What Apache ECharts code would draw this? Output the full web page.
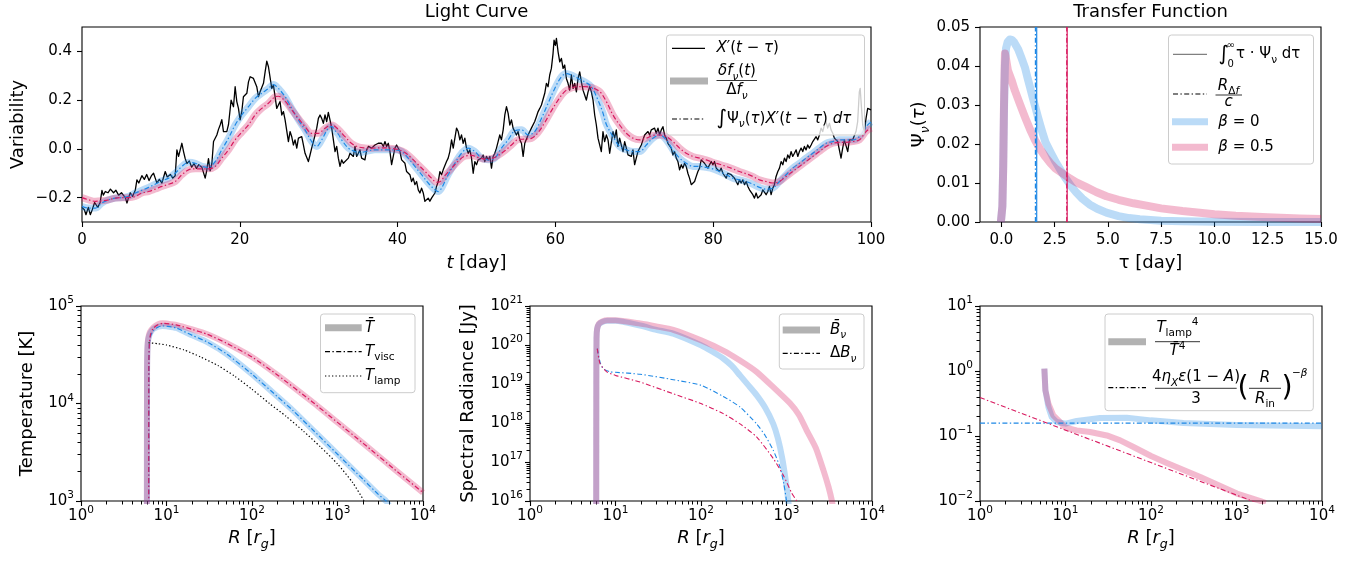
<!DOCTYPE html>
<html>
<head>
<meta charset="utf-8">
<script src="https://cdn.jsdelivr.net/npm/echarts@6/dist/echarts.min.js"></script>
<style>
html, body { margin: 0; padding: 0; background: #fff; }
#chart { width: 1360px; height: 563px; }
</style>
</head>
<body>
<div id="chart"></div>
<script>
// ---------- data ----------
// Driving light curve X'(t - tau): [t (day), variability]
const drivingSignal = [
[0,-0.24],[0.3,-0.25],[0.5,-0.27],[0.8,-0.24],[1.05,-0.27],[1.3,-0.25],[1.6,-0.22],[2.0,-0.24],[2.3,-0.22],[2.53,-0.17],[2.7,-0.19],[2.95,-0.175],[3.3,-0.18],[3.6,-0.165],[4.0,-0.18],[4.3,-0.17],[4.64,-0.19],[5.0,-0.18],[5.49,-0.2],[5.7,-0.222],[5.9,-0.2],[6.12,-0.18],[6.4,-0.195],[6.75,-0.17],[6.96,-0.127],[7.2,-0.14],[7.59,-0.11],[7.9,-0.125],[8.2,-0.105],[8.5,-0.13],[8.8,-0.11],[9.07,-0.1],[9.28,-0.12],[9.49,-0.14],[9.8,-0.125],[10.13,-0.14],[10.55,-0.093],[10.8,-0.115],[11.2,-0.105],[11.5,-0.12],[11.81,-0.11],[12.03,-0.004],[12.24,-0.031],[12.66,0.023],[12.87,-0.011],[13.08,-0.04],[13.3,-0.06],[13.6,-0.05],[13.9,-0.075],[14.2,-0.06],[14.5,-0.08],[14.8,-0.065],[15.19,-0.075],[15.61,-0.12],[15.8,-0.09],[16.03,-0.04],[16.24,-0.09],[16.46,-0.06],[16.67,0.03],[17.09,0.057],[17.3,0.08],[17.51,0.098],[17.72,0.12],[17.93,0.071],[18.35,0.071],[18.57,0.1],[18.9,0.2],[19.2,0.173],[19.41,0.255],[19.62,0.194],[19.83,0.166],[20.04,0.119],[20.25,0.153],[20.46,0.214],[20.89,0.228],[21.1,0.275],[21.31,0.296],[21.73,0.289],[21.94,0.282],[22.15,0.255],[22.36,0.214],[22.57,0.234],[22.78,0.234],[23.0,0.269],[23.21,0.316],[23.42,0.36],[23.63,0.337],[23.84,0.33],[24.05,0.248],[24.26,0.262],[24.47,0.214],[24.68,0.166],[24.89,0.16],[25.1,0.194],[25.32,0.139],[25.53,0.153],[25.74,0.119],[26.16,0.03],[26.37,0.071],[26.58,0.05],[26.79,0.016],[27.0,0.037],[27.22,0.003],[27.43,0.044],[27.85,0.05],[28.06,0.016],[28.27,-0.018],[28.48,-0.025],[28.69,-0.052],[28.9,-0.025],[29.11,0.003],[29.32,0.01],[29.54,0.057],[29.75,0.085],[29.96,0.125],[30.17,0.139],[30.38,0.125],[30.59,0.105],[30.8,0.139],[31.01,0.112],[31.22,0.15],[31.43,0.119],[31.65,0.085],[31.86,0.037],[32.07,-0.011],[32.28,0.01],[32.49,-0.038],[32.7,-0.072],[32.91,-0.045],[33.12,-0.059],[33.33,-0.052],
[33.76,-0.038],[33.97,-0.018],[34.18,-0.011],[34.39,-0.031],[34.6,0.01],[34.81,-0.031],[35.02,-0.018],[35.23,-0.004],[35.44,-0.038],[35.86,-0.045],[36.08,-0.004],[36.29,0.01],[36.71,0.003],[37.13,0.016],[37.55,0.023],[37.97,0.023],[38.19,0.01],[38.4,0.03],[38.61,0.01],[38.82,0.023],[39.03,-0.011],[39.24,-0.065],[39.45,-0.031],[39.66,0.003],[39.87,0.016],[40.08,0.01],[40.3,-0.011],[40.51,-0.045],[40.93,-0.059],[41.14,-0.093],[41.35,-0.086],[41.56,-0.106],[41.77,-0.134],[41.98,-0.12],[42.19,-0.147],[42.41,-0.134],[42.62,-0.168],[42.83,-0.181],[43.04,-0.161],[43.25,-0.181],[43.46,-0.215],[43.67,-0.209],[43.88,-0.202],[44.09,-0.215],[44.3,-0.202],[44.51,-0.209],[44.73,-0.181],[44.94,-0.154],[45.15,-0.134],[45.36,-0.093],[45.57,-0.106],[45.78,-0.086],[45.99,-0.093],[46.2,-0.052],[46.41,-0.038],[46.62,-0.011],[46.84,0.037],[47.05,0.003],[47.26,0.044],[47.47,0.085],[47.68,0.071],[47.89,0.037],[48.1,0.057],[48.31,0.023],[48.52,0.044],[48.73,0.003],[48.95,-0.018],[49.16,-0.004],[49.37,-0.038],[49.58,-0.1],[49.79,-0.052],[50.0,-0.065],[50.21,-0.045],[50.63,-0.038],[50.84,-0.025],[51.05,-0.052],[51.27,-0.031],[51.48,-0.045],[51.69,-0.031],[51.9,-0.079],[52.11,-0.031],[52.32,-0.018],[52.53,0.003],[52.74,0.03],[52.95,0.057],[53.16,0.037],[53.38,0.078],[53.59,0.139],[53.8,0.173],[54.01,0.146],[54.22,0.098],[54.43,0.119],[54.64,0.085],[54.85,0.091],[55.06,0.057],[55.27,0.071],[55.49,0.037],[55.7,0.023],[55.91,-0.031],[56.12,0.023],[56.33,0.03],[56.54,0.057],[56.96,0.085],[57.17,0.078],[57.38,0.112],[57.59,0.132],[57.81,0.153],[58.02,0.166],[58.23,0.18],[58.44,0.187],[58.65,0.228],[58.86,0.269],[59.07,0.255],[59.28,0.303],[59.49,0.33],[59.7,0.391],[59.83,0.446],[60.0,0.425],[60.13,0.453],[60.34,0.398],[60.55,0.357],[60.76,0.371],[60.97,0.33],[61.18,0.344],[61.39,0.289],[61.6,0.269],[61.81,0.241],[62.03,0.303],[62.24,0.248],[62.45,0.269],[62.66,0.234],[62.87,0.289],[63.08,0.316],[63.29,0.275],[63.5,0.241],[63.71,0.221],[63.92,0.2],[64.14,0.234],[64.35,0.255],[64.56,0.234],[64.77,0.2],[64.98,0.139],[65.19,0.098],[65.4,0.044],
[65.82,-0.011],[66.03,0.071],[66.24,0.03],[66.46,0.057],[66.67,0.037],[66.88,-0.018],[67.09,-0.025],[67.3,0.071],[67.51,0.044],[67.72,0.078],[67.93,0.01],[68.14,0.044],[68.35,0.016],[68.57,-0.011],[68.78,0.03],[68.99,0.003],[69.2,-0.025],[69.41,-0.018],[69.62,-0.031],[69.83,-0.004],[70.04,-0.065],[70.25,-0.038],[70.46,-0.011],[70.68,-0.004],[70.89,0.016],[71.1,0.037],[71.31,0.057],[71.52,0.064],[71.73,0.071],[71.94,0.057],[72.15,0.078],[72.36,0.071],[72.57,0.085],[72.78,0.064],[73.0,0.085],[73.21,0.057],[73.42,0.078],[73.63,0.091],[73.84,0.057],[74.05,0.044],[74.26,0.023],[74.47,0.016],[74.68,0.003],[74.89,-0.025],[75.11,-0.011],[75.32,-0.038],[75.53,-0.052],[75.74,-0.086],[75.95,-0.065],[76.16,-0.079],[76.37,-0.059],[76.58,-0.072],[76.79,-0.1],[77.0,-0.12],[77.22,-0.147],[77.43,-0.154],[77.64,-0.134],[77.85,-0.113],[78.06,-0.093],[78.27,-0.079],[78.48,-0.045],[78.69,-0.038],[78.9,-0.059],[79.11,-0.052],[79.32,-0.079],[79.54,-0.065],[79.75,-0.052],[79.96,-0.065],[80.17,-0.052],[80.38,-0.079],[80.59,-0.072],[80.8,-0.093],[81.01,-0.079],[81.22,-0.1],[81.43,-0.106],[81.65,-0.12],[81.86,-0.1],[82.07,-0.093],[82.28,-0.106],[82.49,-0.113],[82.7,-0.12],[82.91,-0.134],[83.12,-0.147],[83.33,-0.127],[83.54,-0.14],[83.76,-0.127],[83.97,-0.147],[84.18,-0.134],[84.39,-0.154],[84.6,-0.168],[84.81,-0.175],[85.02,-0.188],[85.23,-0.202],[85.44,-0.181],[85.65,-0.202],[85.86,-0.195],[86.08,-0.188],[86.29,-0.168],[86.5,-0.175],[86.71,-0.188],[86.92,-0.175],[87.13,-0.154],[87.34,-0.188],[87.55,-0.161],[87.76,-0.147],[87.97,-0.113],[88.19,-0.093],[88.4,-0.079],[88.61,-0.052],[88.82,-0.065],[89.03,-0.038],[89.24,-0.052],[89.45,-0.025],[89.66,-0.038],[89.87,-0.011],[90.08,-0.031],[90.3,-0.018],[90.51,-0.004],[90.72,-0.031],[90.93,-0.011],[91.14,0.003],[91.35,-0.011],[91.56,0.01],[91.77,-0.004],[91.98,0.016],[92.19,0.003],[92.41,0.016],[92.62,0.03],[92.83,0.023],[93.04,0.05],[93.25,0.037],[93.46,0.057],[93.67,0.085],[93.88,0.071],[94.09,0.098],[94.3,0.112],[94.51,0.085],[94.73,0.105],[94.94,0.078],[95.15,0.064],[95.36,0.044],[95.57,0.037],[95.78,0.03],[95.99,0.037],[96.2,-0.038],[96.41,0.003],[96.62,0.037],[96.84,0.044],[97.05,-0.011],[97.26,0.037],[97.47,0.03],[97.68,0.037],[97.89,0.044],[98.1,0.071],[98.31,0.112],[98.52,0.234],[98.63,0.248],[98.8,0.166],[98.95,0.098],[99.16,0.071],[99.37,0.125],[99.58,0.166],[99.79,0.173],[100,0.16]
];

// Reprocessed response (delta f / Delta f and its convolution), beta = 0
const responseBeta0 = [
[0,-0.236],[0.84,-0.243],[1.69,-0.243],[2.53,-0.222],[3.38,-0.209],[4.22,-0.202],[5.06,-0.2],[5.91,-0.195],[6.75,-0.181],[7.59,-0.17],[8.44,-0.158],[9.28,-0.145],[10.13,-0.131],[10.97,-0.12],[11.81,-0.1],[12.66,-0.072],[13.5,-0.055],[14.35,-0.059],[15.19,-0.072],[16.03,-0.076],[16.88,-0.052],[17.72,-0.004],[18.57,0.044],[19.41,0.098],[20.25,0.139],[21.1,0.173],[21.94,0.207],[22.78,0.228],[23.63,0.248],[24.26,0.264],[24.89,0.248],[25.74,0.214],[26.58,0.166],[27.43,0.119],[28.27,0.078],[29.11,0.03],[29.75,0.01],[30.38,0.037],[31.22,0.085],[31.65,0.091],[32.07,0.075],[32.49,0.06],[32.91,0.037],[33.76,0.003],[34.6,-0.011],[35.44,-0.014],[36.29,-0.008],[37.13,-0.004],[37.97,-0.004],[38.82,-0.004],[39.66,-0.004],[40.51,-0.011],[41.35,-0.038],[42.19,-0.072],[43.04,-0.106],[43.88,-0.14],[44.73,-0.168],[45.15,-0.175],[45.57,-0.161],[46.41,-0.106],[47.26,-0.059],[48.1,-0.018],[48.95,0.003],[49.79,-0.011],[50.63,-0.038],[51.48,-0.045],[52.32,-0.038],[53.16,0.003],[54.01,0.037],[54.85,0.074],[55.7,0.078],[56.54,0.057],[57.38,0.071],[58.23,0.125],[59.07,0.187],[59.92,0.248],[60.76,0.296],[61.39,0.309],[62.03,0.303],[62.87,0.289],[63.71,0.275],[64.56,0.255],[65.4,0.2],[66.0,0.15],[66.46,0.1],[67.3,0.05],[68.14,0.01],[68.99,-0.004],[69.83,-0.011],[70.68,-0.011],[71.52,0.016],[72.36,0.044],[73.21,0.057],[74.05,0.037],[74.89,-0.004],[75.74,-0.038],[76.58,-0.059],[77.43,-0.072],[78.27,-0.072],[79.11,-0.076],[79.96,-0.082],[80.8,-0.093],[81.65,-0.106],[82.49,-0.12],[83.33,-0.127],[84.18,-0.134],[85.02,-0.145],[85.86,-0.158],[86.71,-0.165],[87.55,-0.161],[88.4,-0.134],[89.24,-0.106],[90.08,-0.079],[90.93,-0.059],[91.77,-0.038],[92.62,-0.018],[93.46,0.003],[94.3,0.023],[95.15,0.03],[95.99,0.037],[96.84,0.037],[97.68,0.037],[98.52,0.05],[99.37,0.091],[100,0.11]
];

// Reprocessed response, beta = 0.5
const responseBeta05 = [
[0,-0.2],[0.84,-0.209],[1.69,-0.215],[2.53,-0.213],[3.38,-0.209],[4.22,-0.202],[5.06,-0.2],[5.91,-0.2],[6.75,-0.195],[7.59,-0.181],[8.44,-0.175],[9.28,-0.165],[10.13,-0.154],[10.97,-0.145],[11.81,-0.134],[12.66,-0.106],[13.5,-0.086],[14.35,-0.082],[15.19,-0.082],[16.03,-0.082],[16.88,-0.072],[17.72,-0.038],[18.57,-0.004],[19.41,0.037],[20.25,0.068],[21.1,0.098],[21.94,0.139],[22.78,0.166],[23.63,0.187],[24.47,0.214],[24.89,0.216],[25.74,0.196],[26.58,0.16],[27.43,0.125],[28.27,0.091],[29.11,0.064],[29.96,0.064],[30.8,0.085],[31.65,0.098],[32.49,0.08],[33.33,0.05],[34.18,0.022],[35.02,0.008],[35.86,0.004],[36.71,0.003],[37.55,0.004],[38.4,0.004],[39.24,0.002],[40.08,-0.003],[40.93,-0.015],[41.77,-0.038],[42.62,-0.065],[43.46,-0.092],[44.3,-0.12],[44.94,-0.137],[45.36,-0.135],[45.99,-0.11],[46.84,-0.08],[47.68,-0.05],[48.52,-0.03],[49.37,-0.027],[50.21,-0.035],[51.05,-0.042],[51.9,-0.04],[52.74,-0.027],[53.59,-0.008],[54.43,0.016],[55.27,0.038],[56.12,0.04],[56.96,0.043],[57.81,0.067],[58.65,0.108],[59.49,0.156],[60.34,0.2],[61.18,0.235],[62.03,0.25],[62.87,0.255],[63.71,0.255],[64.56,0.252],[65.4,0.24],[65.82,0.228],[66.46,0.194],[67.3,0.139],[68.14,0.098],[68.99,0.064],[69.83,0.044],[70.68,0.037],[71.52,0.044],[72.36,0.055],[73.21,0.057],[74.05,0.05],[74.89,0.03],[75.74,0.003],[76.58,-0.018],[77.43,-0.031],[78.27,-0.038],[79.11,-0.045],[79.96,-0.055],[80.8,-0.063],[81.65,-0.072],[82.49,-0.082],[83.33,-0.093],[84.18,-0.102],[85.02,-0.113],[85.86,-0.127],[86.71,-0.134],[87.55,-0.14],[88.4,-0.134],[89.24,-0.113],[90.08,-0.093],[90.93,-0.072],[91.77,-0.052],[92.62,-0.031],[93.46,-0.011],[94.3,0.01],[95.15,0.023],[95.99,0.027],[96.84,0.027],[97.68,0.03],[98.52,0.037],[99.37,0.071],[100,0.085]
];

// Transfer functions Psi_nu(tau): [tau (day), Psi]
const transferBeta0 = [
[-0.02,0],[0.05,0.004],[0.09,0.015],[0.13,0.03],[0.17,0.04],[0.22,0.0445],[0.3,0.0462],[0.4,0.0468],[0.5,0.0467],[0.6,0.0461],[0.79,0.0443],[0.95,0.042],[1.11,0.0396],[1.23,0.037],[1.35,0.0345],[1.47,0.032],[1.59,0.0296],[1.71,0.0271],[1.83,0.0248],[1.95,0.0226],[2.07,0.0205],[2.3,0.018],[2.54,0.0155],[2.78,0.0133],[3.02,0.0112],[3.26,0.0093],[3.5,0.0077],[3.8,0.006],[4.14,0.0045],[4.5,0.0034],[4.93,0.0024],[5.5,0.0015],[6,0.001],[6.5,0.0007],[7,0.0005],[7.5,0.00035],[8.5,0.00018],[10,0.00007],[12,0.00002],[15,0]
];
const transferBeta05 = [
[-0.02,0],[0.05,0.004],[0.09,0.014],[0.12,0.028],[0.15,0.038],[0.17,0.0432],[0.2,0.0425],[0.31,0.0389],[0.48,0.0364],[0.63,0.0338],[0.87,0.0303],[1.11,0.0269],[1.35,0.0237],[1.59,0.0209],[1.83,0.0186],[2.07,0.0167],[2.3,0.0151],[2.54,0.0137],[3.1,0.0116],[3.5,0.0102],[3.97,0.009],[4.45,0.0077],[4.93,0.0066],[5.5,0.0057],[6.2,0.0048],[7,0.004],[7.5,0.0035],[8.5,0.0028],[10,0.002],[11,0.0016],[12.5,0.0012],[14,0.0009],[15,0.0008]
];
// Mean lags (integral of tau * Psi) and R_Delta_f / c, in days
const meanLag = { beta0: 1.66, beta05: 3.09 };
const radiusLag = { beta0: 1.60, beta05: 3.07 };

// Radial temperature profiles: [R (r_g), T (K)]
const tempMeanBeta0 = [[5.9,900],[5.92,2.0e4],[5.97,3.4e4],[6.1,4.5e4],[6.4,5.2e4],[7,5.8e4],[8,6.15e4],[9,6.25e4],[10,6.2e4],[13,5.95e4],[20,5.0e4],[30,4.27e4],[50,3.24e4],[100,2.0e4],[200,1.17e4],[300,8.5e3],[500,5.5e3],[1000,3.02e3],[2000,1.66e3],[3000,1.17e3],[3700,1.0e3],[4000,900]];
const tempMeanBeta05 = [[5.9,900],[5.92,2.0e4],[5.97,3.5e4],[6.1,4.6e4],[6.4,5.4e4],[7,6.0e4],[8,6.5e4],[9,6.65e4],[10,6.6e4],[13,6.4e4],[20,5.75e4],[30,5.13e4],[50,4.17e4],[100,3.0e4],[200,1.95e4],[500,1.05e4],[1000,6.4e3],[2000,3.9e3],[5000,2.0e3],[10000,1.22e3]];
const tempViscBeta0 = [[6.2,900],[6.22,2.5e4],[6.3,4.0e4],[6.5,4.9e4],[7,5.6e4],[8,6.1e4],[9,6.25e4],[10,6.2e4],[13,5.95e4],[20,5.0e4],[30,4.27e4],[50,3.24e4],[100,2.0e4],[200,1.17e4],[300,8.5e3],[500,5.5e3],[1000,3.02e3],[2000,1.66e3],[3000,1.17e3],[3700,1.0e3],[4000,900]];
const tempViscBeta05 = [[6.2,900],[6.22,2.5e4],[6.3,4.1e4],[6.5,5.1e4],[7,5.9e4],[8,6.45e4],[9,6.65e4],[10,6.6e4],[13,6.4e4],[20,5.75e4],[30,5.13e4],[50,4.17e4],[100,3.0e4],[200,1.95e4],[500,1.05e4],[1000,6.4e3],[2000,3.9e3],[5000,2.0e3],[10000,1.22e3]];
const tempLamp = [[6.15,4.2e4],[8,4.1e4],[10,3.98e4],[16,3.55e4],[25,3.0e4],[40,2.45e4],[63,1.9e4],[100,1.4e4],[160,1.0e4],[250,7.4e3],[400,5.2e3],[630,3.6e3],[1000,2.4e3],[1500,1.55e3],[2050,1.0e3],[2300,850]];

// Spectral radiance profiles: [R (r_g), B (Jy)]
const radianceMeanBeta0 = [[5.95,5e15],[5.97,1e19],[6.0,1.5e20],[6.1,2.6e20],[6.4,3.4e20],[7,3.9e20],[8,4.2e20],[10,4.2e20],[19.4,3.16e20],[30,2.45e20],[47.4,1.95e20],[100,9.8e19],[135,6.8e19],[182,4.5e19],[230,2.9e19],[286,1.66e19],[355,9.5e18],[447,5.2e18],[562,2.5e18],[700,9.5e17],[794,4.0e17],[891,1.26e17],[977,3.5e16],[1050,1.0e16],[1100,4e15]];
const radianceMeanBeta05 = [[5.95,5e15],[5.97,1e19],[6.0,1.5e20],[6.1,2.6e20],[6.4,3.5e20],[7,4.0e20],[8,4.3e20],[10,4.3e20],[19.4,3.55e20],[30,3.0e20],[47.4,2.45e20],[100,1.32e20],[182,7.2e19],[286,4.0e19],[447,2.05e19],[700,8.3e18],[1100,3.2e18],[1400,1.6e18],[1720,6.5e17],[2200,2.3e17],[2700,6.2e16],[3100,2.3e16],[3400,1.0e16],[3600,5e15]];
const radianceDeltaBeta0 = [[6.12,8.1e19],[6.6,3.6e19],[7.2,2.45e19],[8.6,2.05e19],[10,2.0e19],[19.4,1.78e19],[47.4,1.29e19],[100,9.3e18],[182,4.8e18],[286,2.57e18],[447,9.5e17],[562,4.8e17],[700,2.0e17],[840,7.4e16],[930,2.8e16],[1000,1.0e16],[1030,5e15]];
const radianceDeltaBeta05 = [[6.12,8.1e19],[6.6,3.3e19],[7.9,2.05e19],[10,1.66e19],[19.4,1.12e19],[47.4,5.6e18],[100,3.16e18],[182,1.74e18],[286,9.5e17],[447,4.4e17],[700,1.23e17],[918,4.6e16],[1150,1.6e16],[1315,1.0e16],[1400,6e15]];

// Lamp-post heating fraction: [R (r_g), ratio]
const heatingRatioBeta0 = [[5.66,1.09],[5.82,0.505],[6.31,0.279],[6.9,0.196],[7.9,0.164],[10.07,0.155],[13.5,0.17],[25.4,0.189],[52,0.191],[100,0.174],[240,0.158],[1000,0.148],[10000,0.141]];
const heatingRatioBeta05 = [[5.66,1.09],[5.82,0.505],[6.31,0.314],[7.2,0.208],[8.65,0.164],[10.07,0.134],[13.5,0.122],[19.4,0.115],[30.4,0.102],[43.6,0.0857],[62.4,0.0678],[100,0.0492],[153,0.0385],[377,0.0234],[1012,0.013],[1900,0.01],[2200,0.0093]];
const heatingModelBeta0 = [[1,0.158],[10000,0.158]];
const heatingModelBeta05 = [[1,0.39],[10000,0.0039]];

// Tick values
const lcTicksY = [-0.2, 0, 0.2, 0.4];
const tfTicksX = [0, 2.5, 5, 7.5, 10, 12.5, 15];

// ---------- styles ----------
const F = 'DejaVu Sans';
const BLUE = '#1E88E5', PINK = '#D81B60';
const BAND_BLUE = 'rgba(30,136,229,0.3)', BAND_PINK = 'rgba(216,27,96,0.3)', BAND_GRAY = 'rgba(0,0,0,0.3)';
const DASHDOT = [5, 2.4, 1.4, 2.4];
const DOTTED = [1.3, 2.2];

const grids = [
  { left: 82, top: 27, width: 789, height: 195 },
  { left: 980, top: 27, width: 341, height: 195 },
  { left: 81, top: 306, width: 342, height: 195 },
  { left: 530, top: 306, width: 342, height: 195 },
  { left: 980, top: 306, width: 342, height: 195 }
].map(g => Object.assign({ show: true, borderColor: '#000', borderWidth: 1.1, backgroundColor: 'transparent', containLabel: false }, g));

const tickStyle = { show: true, length: 5, inside: false, lineStyle: { color: '#000', width: 1.1 } };
const labelBase = { color: '#000', fontFamily: F, fontSize: 15 };
const hiddenLine = { show: false, onZero: false };
const minus = s => s.replace('-', '\u2212');

const logFmt = v => {
  const e = Math.round(Math.log10(v));
  return '{b|10}{e|' + (e < 0 ? '\u2212' + (-e) : e) + '}';
};
const logRich = {
  b: { fontSize: 15, fontFamily: F, color: '#000', lineHeight: 22, verticalAlign: 'middle' },
  e: { fontSize: 10.5, fontFamily: F, color: '#000', lineHeight: 11, verticalAlign: 'top' }
};

function linAxis(gi, min, max, extra) {
  return Object.assign({
    type: 'value', gridIndex: gi, min, max,
    axisLine: hiddenLine, splitLine: { show: false },
    axisTick: Object.assign({}, tickStyle),
    axisLabel: Object.assign({}, labelBase)
  }, extra || {});
}
function logAxis(gi, min, max, isY) {
  return {
    type: 'log', logBase: 10, gridIndex: gi, min, max,
    axisLine: hiddenLine, splitLine: { show: false },
    axisTick: Object.assign({}, tickStyle),
    axisLabel: Object.assign({}, labelBase, { formatter: logFmt, rich: logRich, margin: isY ? 7 : 4 })
  };
}
// Tick-only companion axis spanning the same decades in exponent space:
// carries the 2..9 minor ticks of a logarithmic axis.
function minorAxis(gi, loExp, hiExp, position) {
  const vals = [];
  for (let d = loExp; d < hiExp; d++) for (let k = 2; k <= 9; k++) vals.push(d + Math.log10(k));
  return {
    type: 'value', gridIndex: gi, min: loExp, max: hiExp, position, offset: 0,
    axisLine: hiddenLine, splitLine: { show: false },
    axisTick: { show: true, length: 3.5, inside: false, customValues: vals, lineStyle: { color: '#000', width: 1 } },
    axisLabel: { show: false, customValues: vals }
  };
}

const xAxes = [
  linAxis(0, 0, 100, { interval: 20, axisLabel: Object.assign({}, labelBase, { margin: 9, lineHeight: 18 }) }),
  linAxis(1, -1, 15, {
    axisTick: Object.assign({}, tickStyle, { customValues: tfTicksX }),
    axisLabel: Object.assign({}, labelBase, { margin: 9, lineHeight: 18, customValues: tfTicksX, formatter: v => v.toFixed(1) })
  }),
  logAxis(2, 1, 1e4, false),
  logAxis(3, 1, 1e4, false),
  logAxis(4, 1, 1e4, false),
  minorAxis(2, 0, 4, 'bottom'),
  minorAxis(3, 0, 4, 'bottom'),
  minorAxis(4, 0, 4, 'bottom')
];
const yAxes = [
  linAxis(0, -0.3, 0.5, {
    axisTick: Object.assign({}, tickStyle, { customValues: lcTicksY }),
    axisLabel: Object.assign({}, labelBase, { margin: 10, customValues: lcTicksY, formatter: v => minus(v.toFixed(1)) })
  }),
  linAxis(1, 0, 0.05, { interval: 0.01, axisLabel: Object.assign({}, labelBase, { margin: 10, formatter: v => v.toFixed(2) }) }),
  logAxis(2, 1e3, 1e5, true),
  logAxis(3, 1e16, 1e21, true),
  logAxis(4, 1e-2, 1e1, true),
  minorAxis(2, 3, 5, 'left'),
  minorAxis(3, 16, 21, 'left'),
  minorAxis(4, -2, 1, 'left')
];

function line(gi, data, color, width, dash, z, extra) {
  return Object.assign({
    type: 'line', xAxisIndex: gi, yAxisIndex: gi, data,
    symbol: 'none', showSymbol: false, silent: true, animation: false,
    lineStyle: { color, width, type: dash || 'solid', join: 'round', cap: 'butt' },
    z: z || 2
  }, extra || {});
}
const SM = { smooth: 0.2 };

const series = [
  // Light curve
  line(0, drivingSignal, '#000', 1.3, 'solid', 2),
  line(0, responseBeta0, BAND_BLUE, 7, 'solid', 3, { smooth: 0.35 }),
  line(0, responseBeta05, BAND_PINK, 7, 'solid', 3, { smooth: 0.35 }),
  line(0, responseBeta0, BLUE, 1.2, DASHDOT, 4, { smooth: 0.35 }),
  line(0, responseBeta05, PINK, 1.2, DASHDOT, 4, { smooth: 0.35 }),
  // Transfer function
  line(1, transferBeta0, BAND_BLUE, 8, 'solid', 3),
  line(1, transferBeta05, BAND_PINK, 8, 'solid', 3),
  line(1, [[meanLag.beta0, 0], [meanLag.beta0, 0.05]], BLUE, 1.2, 'solid', 4),
  line(1, [[radiusLag.beta0, 0], [radiusLag.beta0, 0.05]], BLUE, 1.2, DASHDOT, 4),
  line(1, [[meanLag.beta05, 0], [meanLag.beta05, 0.05]], PINK, 1.2, 'solid', 4),
  line(1, [[radiusLag.beta05, 0], [radiusLag.beta05, 0.05]], PINK, 1.2, DASHDOT, 4),
  // Temperature
  line(2, tempMeanBeta0, BAND_BLUE, 6, 'solid', 3, SM),
  line(2, tempMeanBeta05, BAND_PINK, 6, 'solid', 3, SM),
  line(2, tempViscBeta0, BLUE, 1.2, DASHDOT, 4, SM),
  line(2, tempViscBeta05, PINK, 1.2, DASHDOT, 4, SM),
  line(2, tempLamp, '#000', 1.2, DOTTED, 4, SM),
  // Spectral radiance
  line(3, radianceMeanBeta0, BAND_BLUE, 6, 'solid', 3, SM),
  line(3, radianceMeanBeta05, BAND_PINK, 6, 'solid', 3, SM),
  line(3, radianceDeltaBeta0, BLUE, 1.1, DASHDOT, 4, SM),
  line(3, radianceDeltaBeta05, PINK, 1.1, DASHDOT, 4, SM),
  // Heating ratio
  line(4, heatingRatioBeta0, BAND_BLUE, 6, 'solid', 3),
  line(4, heatingRatioBeta05, BAND_PINK, 6, 'solid', 3),
  line(4, heatingModelBeta0, BLUE, 1.2, DASHDOT, 4),
  line(4, heatingModelBeta05, PINK, 1.1, DASHDOT, 4)
];

// ---------- text, legends ----------
function richSet(s) {
  const lh = Math.round(s * 1.45);
  const sub = s * 0.7;
  const b = { fontFamily: F, fill: '#000' };
  return {
    n: Object.assign({ fontSize: s, lineHeight: lh }, b),
    i: Object.assign({ fontSize: s, fontStyle: 'italic', lineHeight: lh }, b),
    sb: Object.assign({ fontSize: sub, lineHeight: sub, verticalAlign: 'bottom' }, b),
    isb: Object.assign({ fontSize: sub, fontStyle: 'italic', lineHeight: sub, verticalAlign: 'bottom' }, b),
    sp: Object.assign({ fontSize: sub, lineHeight: sub, verticalAlign: 'top' }, b),
    isp: Object.assign({ fontSize: sub, fontStyle: 'italic', lineHeight: sub, verticalAlign: 'top' }, b),
    big: Object.assign({ fontSize: s * 1.35, lineHeight: lh }, b),
    par: Object.assign({ fontSize: s * 1.9, lineHeight: s * 2.2 }, b)
  };
}
const G = [];
function T(x, y, text, opt) {
  opt = opt || {};
  const s = opt.size || 15;
  const align = opt.align || 'left';
  G.push({
    type: 'text', x, y, rotation: opt.rot || 0, z: 101, silent: true,
    style: { text, rich: richSet(s), font: s + 'px "' + F + '"', fill: '#000',
      align, verticalAlign: 'middle', textAlign: align, textVerticalAlign: 'middle' }
  });
}
function L(x1, y1, x2, y2, color, w, dash) {
  G.push({ type: 'line', z: 100, silent: true, shape: { x1, y1, x2, y2 },
    style: { stroke: color, lineWidth: w, lineDash: dash || null } });
}
function Box(x, y, w, h) {
  G.push({ type: 'rect', z: 99, silent: true, shape: { x, y, width: w, height: h, r: 3 },
    style: { fill: 'rgba(255,255,255,0.8)', stroke: '#cccccc', lineWidth: 1 } });
}

// titles and axis names
T(476.5, 12, '{n|Light Curve}', { size: 18, align: 'center' });
T(1150.5, 12, '{n|Transfer Function}', { size: 18, align: 'center' });
T(18, 124.5, '{n|Variability}', { size: 18, align: 'center', rot: Math.PI / 2 });
T(919, 124.5, '{n|Ψ}{isb|ν}{n|(}{i|τ}{n|)}', { size: 18, align: 'center', rot: Math.PI / 2 });
T(476.5, 263, '{i|t}{n| [day]}', { size: 18, align: 'center' });
T(1150.5, 263, '{n|τ [day]}', { size: 18, align: 'center' });
T(27, 403.5, '{n|Temperature [K]}', { size: 18, align: 'center', rot: Math.PI / 2 });
T(468, 403.5, '{n|Spectral Radiance [Jy]}', { size: 18, align: 'center', rot: Math.PI / 2 });
[252, 701, 1151].forEach(x => T(x, 538, '{i|R}{n| [}{i|r}{isb|g}{n|]}', { size: 18, align: 'center' }));

// legend: light curve
Box(666.5, 35, 198, 100);
L(672, 48.3, 705, 48.3, '#000', 1.3);
T(716.5, 48.3, '{i|X}{n|′(}{i|t}{n| − }{i|τ}{n|)}');
L(670, 81, 708, 81, BAND_GRAY, 7);
T(737, 71.5, '{i|δf}{isb|ν}{n|(}{i|t}{n|)}', { align: 'center' });
L(716.5, 80.5, 757, 80.5, '#000', 0.8);
T(737, 90.5, '{n|Δ}{i|f}{isb|ν}', { align: 'center' });
L(672, 119, 705, 119, '#000', 1.2, DASHDOT);
T(716.5, 119, '{big|∫}{n|Ψ}{isb|ν}{n|(}{i|τ}{n|)}{i|X}{n|′(}{i|t}{n| − }{i|τ}{n|) }{i|dτ}');

// legend: transfer function
Box(1168.5, 35, 145, 129);
L(1173, 54.3, 1207, 54.3, '#808080', 1.2);
T(1218.5, 55, '{big|∫}');
T(1226.5, 45, '{n|∞}', { size: 10 });
T(1227.5, 64, '{n|0}', { size: 10 });
T(1236, 54.3, '{n|τ · Ψ}{sb|ν}{n| dτ}');
L(1173, 94, 1207, 94, '#000', 1.2, DASHDOT);
T(1228.5, 86, '{i|R}{sb|Δ}{isb|f}', { align: 'center' });
L(1215.5, 95, 1242, 95, '#000', 0.8);
T(1228.5, 102.5, '{i|c}', { align: 'center' });
L(1172, 121.7, 1208, 121.7, BAND_BLUE, 7);
T(1218.3, 121.7, '{i|β}{n| = 0}');
L(1172, 147.3, 1208, 147.3, BAND_PINK, 7);
T(1218.3, 147.3, '{i|β}{n| = 0.5}');

// legend: temperature
Box(320.5, 314, 94.5, 78.7);
L(325, 327.7, 361.7, 327.7, BAND_GRAY, 7);
T(365, 327.7, '{i|T\u0304}');
L(325, 351.7, 361.7, 351.7, '#000', 1.2, DASHDOT);
T(365, 351.7, '{i|T}{sb|visc}');
L(325, 376, 361.7, 376, '#000', 1.2, DOTTED);
T(365, 376, '{i|T}{sb|lamp}');

// legend: spectral radiance
Box(779.3, 314, 84.7, 55);
L(782.7, 330, 820, 330, BAND_GRAY, 7);
T(830, 330, '{i|B\u0304}{isb|ν}');
L(782.7, 353.3, 820, 353.3, '#000', 1.2, DASHDOT);
T(830, 353.3, '{n|Δ}{i|B}{isb|ν}');

// legend: heating ratio
Box(1105, 314, 208.3, 96.7);
L(1108.3, 341.7, 1146, 341.7, BAND_GRAY, 7);
T(1177.5, 328, '{i|T}{sb|lamp}{sp|4}', { align: 'center' });
L(1155, 341.7, 1200, 341.7, '#000', 0.8);
T(1177.5, 351.5, '{i|T\u0304}{sp|4}', { align: 'center' });
L(1108.3, 387.7, 1146, 387.7, '#000', 1.2, DASHDOT);
T(1196, 377.5, '{n|4}{i|η}{isb|X}{i|ε}{n|(1 − }{i|A}{n|)}', { align: 'center' });
L(1155, 388.3, 1236.7, 388.3, '#000', 0.8);
T(1196, 399, '{n|3}', { align: 'center' });
T(1243, 388.3, '{par|(}', { align: 'center' });
T(1265, 378, '{i|R}', { align: 'center' });
L(1249, 388.3, 1281, 388.3, '#000', 0.8);
T(1265, 399, '{i|R}{sb|in}', { align: 'center' });
T(1287, 388.3, '{par|)}', { align: 'center' });
T(1292, 373, '{n|−}{i|β}', { size: 10.5 });

const chart = echarts.init(document.getElementById('chart'), null, { renderer: 'canvas' });
chart.setOption({
  animation: false,
  backgroundColor: '#fff',
  textStyle: { fontFamily: F },
  grid: grids,
  xAxis: xAxes,
  yAxis: yAxes,
  series,
  graphic: { elements: G }
});
</script>
</body>
</html>
